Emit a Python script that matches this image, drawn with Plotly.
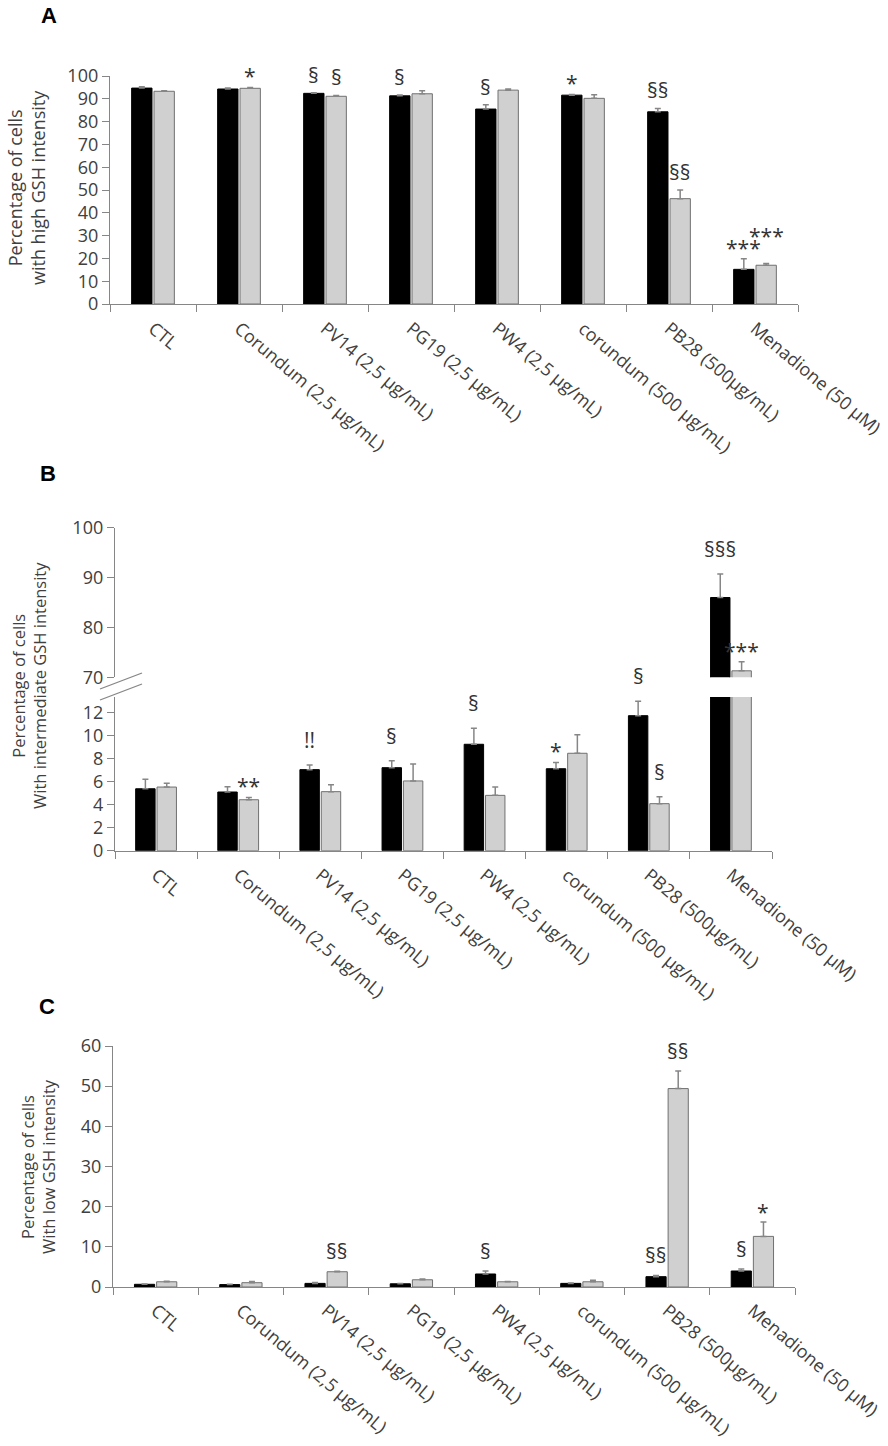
import plotly.graph_objects as go

categories = ["CTL", "Corundum (2,5 µg/mL)", "PV14 (2,5 µg/mL)", "PG19 (2,5 µg/mL)",
              "PW4 (2,5 µg/mL)", "corundum (500 µg/mL)", "PB28 (500µg/mL)", "Menadione (50 µM)"]

# Panel A: high GSH intensity
high_black = [94.7, 94.3, 92.4, 91.3, 85.5, 91.6, 84.3, 15.2]
high_black_err = [0.6, 0.4, 0.3, 0.4, 1.9, 0.3, 1.5, 4.7]
high_gray = [93.3, 94.6, 91.1, 92.2, 93.8, 90.2, 46.2, 17.0]
high_gray_err = [0.2, 0.4, 0.4, 1.3, 0.5, 1.6, 3.8, 0.8]

# Panel B: intermediate GSH intensity
inter_black = [5.37, 5.09, 7.03, 7.2, 9.23, 7.11, 11.71, 86.0]
inter_black_err = [0.82, 0.46, 0.4, 0.6, 1.39, 0.55, 1.25, 4.7]
inter_gray = [5.52, 4.42, 5.12, 6.05, 4.8, 8.45, 4.08, 71.3]
inter_gray_err = [0.32, 0.2, 0.6, 1.47, 0.72, 1.6, 0.6, 1.8]

# Panel C: low GSH intensity
low_black = [0.67, 0.6, 0.9, 0.8, 3.24, 0.9, 2.57, 3.98]
low_black_err = [0.1, 0.1, 0.2, 0.1, 0.74, 0.1, 0.3, 0.5]
low_gray = [1.3, 1.07, 3.8, 1.8, 1.3, 1.3, 49.4, 12.6]
low_gray_err = [0.15, 0.3, 0.1, 0.2, 0.1, 0.4, 4.4, 3.6]

# significance marks: (category index, series, text)
sig_high = [(1, "gray", "*"), (2, "black", "§"), (2, "gray", "§"), (3, "black", "§"),
            (4, "black", "§"), (5, "black", "*"), (6, "black", "§§"), (6, "gray", "§§"),
            (7, "black", "***"), (7, "gray", "***")]
sig_inter = [(1, "gray", "**"), (2, "black", "!!"), (3, "black", "§"), (4, "black", "§"),
             (5, "black", "*"), (6, "black", "§"), (6, "gray", "§"),
             (7, "black", "§§§"), (7, "gray", "***")]
sig_low = [(2, "gray", "§§"), (4, "black", "§"), (6, "black", "§§"), (6, "gray", "§§"),
           (7, "black", "§"), (7, "gray", "*")]

W, H = 888, 1446
def fx(p):
    return p / W
def fy(p):
    return 1 - p / H

FONT = "Open Sans"
TXT = "#404040"
AX = "#868686"
BLACK = "#000000"
GRAY = "#d0d0d0"
GRAY_LINE = "#707070"
BARGAP = 0.48
OFF = (1 - BARGAP) / 4

fig = go.Figure()

def add_pair(xa, ya, vb, eb, vg, eg):
    fig.add_trace(go.Bar(
        x=categories, y=vb, xaxis=xa, yaxis=ya, showlegend=False,
        marker=dict(color=BLACK, line=dict(color=BLACK, width=1)),
        error_y=dict(type="data", symmetric=False, array=eb, arrayminus=[0] * len(eb),
                     color=AX, thickness=1.5, width=3)))
    fig.add_trace(go.Bar(
        x=categories, y=vg, xaxis=xa, yaxis=ya, showlegend=False,
        marker=dict(color=GRAY, line=dict(color=GRAY_LINE, width=1)),
        error_y=dict(type="data", symmetric=False, array=eg, arrayminus=[0] * len(eg),
                     color=AX, thickness=1.5, width=3)))

add_pair("x", "y", high_black, high_black_err, high_gray, high_gray_err)
add_pair("x2", "y2", inter_black, inter_black_err, inter_gray, inter_gray_err)
add_pair("x3", "y3", inter_black, inter_black_err, inter_gray, inter_gray_err)
add_pair("x4", "y4", low_black, low_black_err, low_gray, low_gray_err)

tickfont = dict(family=FONT, size=18, color=TXT)

def xaxis_cfg(d0, d1, anchor, standoff, visible=True):
    return dict(domain=[fx(d0), fx(d1)], anchor=anchor, type="category",
                tickson="boundaries", ticks="outside" if visible else "", ticklen=7,
                tickcolor=AX, tickwidth=1.3, showline=visible, linecolor=AX, linewidth=1.3,
                showticklabels=visible, tickangle=40, tickfont=tickfont,
                ticklabelstandoff=standoff, showgrid=False, zeroline=False,
                automargin=False, fixedrange=True)

def yaxis_cfg(p0, p1, anchor, rng, dtick):
    return dict(domain=[fy(p0), fy(p1)], anchor=anchor, range=rng, dtick=dtick,
                ticks="outside", ticklen=7, tickcolor=AX, tickwidth=1.3,
                showline=True, linecolor=AX, linewidth=1.3, showgrid=False,
                zeroline=False, automargin=False, fixedrange=True,
                tickfont=dict(family=FONT, size=18, color=TXT))

layout = dict(
    template="none",
    width=W, height=H, margin=dict(l=0, r=0, t=0, b=0, pad=0), autosize=False,
    paper_bgcolor="white", plot_bgcolor="white",
    barmode="group", bargap=BARGAP, bargroupgap=0.09,
    xaxis=xaxis_cfg(110, 798, "y", 6),
    yaxis=yaxis_cfg(304, 76, "x", [0, 100], 10),
    xaxis2=xaxis_cfg(115, 772, "y2", 6),
    yaxis2=yaxis_cfg(850.7, 697, "x2", [0, 13.33], 2),
    xaxis3=xaxis_cfg(115, 772, "y3", 0, visible=False),
    yaxis3=yaxis_cfg(677.3, 527.7, "x3", [70, 100], 10),
    xaxis4=xaxis_cfg(113, 795, "y4", 5),
    yaxis4=yaxis_cfg(1287, 1046, "x4", [0, 60], 10),
)
fig.update_layout(**layout)

annots = []
sigfont = dict(family=FONT, size=21, color="#333333")
# extra vertical nudge (px) for marks that were placed apart in the original figure
NUDGE = {("A", 7, "gray"): 16}

def add_sigs(panel, sigs, vb, eb, vg, eg, xa, ya_fn, shift_sec, shift_star):
    for idx, ser, txt in sigs:
        if ser == "black":
            top = vb[idx] + eb[idx]
            xpos = idx - OFF
        else:
            top = vg[idx] + eg[idx]
            xpos = idx + OFF
        ya = ya_fn(top)
        sh = shift_star if "*" in txt else shift_sec
        sh += NUDGE.get((panel, idx, ser), 0)
        annots.append(dict(x=xpos, y=top, xref=xa, yref=ya, text=txt, showarrow=False,
                           xanchor="center", yanchor="middle", yshift=sh, font=sigfont,
                           borderpad=0))

add_sigs("A", sig_high, high_black, high_black_err, high_gray, high_gray_err, "x",
         lambda t: "y", 18, 11)
add_sigs("B", sig_inter, inter_black, inter_black_err, inter_gray, inter_gray_err, "x2",
         lambda t: "y3" if t >= 70 else "y2", 25, 11)
add_sigs("C", sig_low, low_black, low_black_err, low_gray, low_gray_err, "x4",
         lambda t: "y4", 20, 10)

for xc, yc, txt, fs in [(27, 188, "Percentage of cells<br>with high GSH intensity", 18),
                        (29, 686, "Percentage of cells<br>With intermediate GSH intensity", 16.5),
                        (38, 1167, "Percentage of cells<br>With low GSH intensity", 16.5)]:
    annots.append(dict(x=fx(xc), y=fy(yc), xref="paper", yref="paper", text=txt,
                       textangle=-90, showarrow=False, xanchor="center", yanchor="middle",
                       font=dict(family=FONT, size=fs, color=TXT)))

for xc, yc, txt in [(49, 16, "A"), (48, 474, "B"), (47, 1006, "C")]:
    annots.append(dict(x=fx(xc), y=fy(yc), xref="paper", yref="paper", text="<b>" + txt + "</b>",
                       showarrow=False, xanchor="center", yanchor="middle",
                       font=dict(family="Liberation Sans", size=22, color="black")))

fig.update_layout(annotations=annots)

# axis break marks for panel B
shapes = []
for (x0, y0, x1, y1) in [(100, 689, 142, 673), (100, 700, 142, 684)]:
    shapes.append(dict(type="line", xref="paper", yref="paper",
                       x0=fx(x0), y0=fy(y0), x1=fx(x1), y1=fy(y1),
                       line=dict(color=AX, width=1.3)))
fig.update_layout(shapes=shapes)

fig.write_html("out.html", config={"displayModeBar": False},
               post_script="document.body.style.margin='0px';")
